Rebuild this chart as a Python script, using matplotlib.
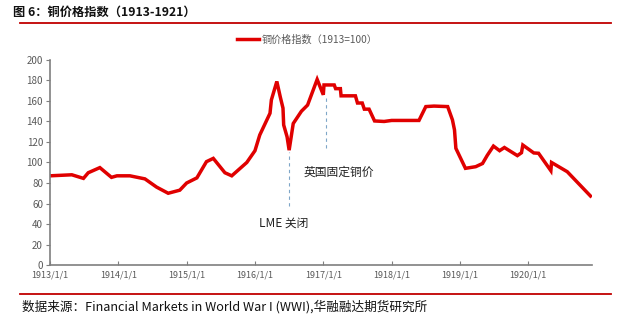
import matplotlib
matplotlib.use("Agg")
import matplotlib.pyplot as plt

plt.rcParams['font.family'] = ['Noto Sans CJK SC', 'DejaVu Sans']

# decimal years and copper price index (1913=100)
years = [1913.0, 1913.32, 1913.49, 1913.56, 1913.73, 1913.9, 1913.98, 1914.17, 1914.39,
         1914.56, 1914.73, 1914.9, 1915.0, 1915.15, 1915.29, 1915.39, 1915.56, 1915.66,
         1915.88, 1916.0, 1916.07, 1916.22, 1916.24, 1916.32, 1916.37, 1916.41, 1916.42,
         1916.47, 1916.5, 1916.56, 1916.68, 1916.77, 1916.91, 1917.0, 1917.01, 1917.16,
         1917.18, 1917.25, 1917.26, 1917.47, 1917.5, 1917.57, 1917.6, 1917.67, 1917.75,
         1917.89, 1918.0, 1918.4, 1918.5, 1918.62, 1918.82, 1918.89, 1918.92, 1918.94,
         1919.08, 1919.23, 1919.33, 1919.4, 1919.49, 1919.58, 1919.65, 1919.84, 1919.9,
         1919.92, 1920.08, 1920.15, 1920.33, 1920.34, 1920.57, 1920.91]
values = [87, 88, 84.5, 90, 95, 85.5, 87, 87, 84,
          76, 70, 73, 80, 85, 100.8, 104, 90, 87,
          100, 111.5, 126.8, 148, 161, 179, 164, 153, 136.6,
          125, 112, 138, 150, 156, 181, 166, 175.6, 175.6,
          172, 172, 165, 165, 158, 158, 152, 152, 140.5,
          140, 141, 141, 154.5, 155, 154.5, 141.5, 131.7, 113.8,
          94.3, 95.9, 99, 107, 116, 111.5, 114.6, 106.7, 109.5,
          117, 109.3, 109, 92, 100, 91, 67.3]

tick_years = [1913, 1914, 1915, 1916, 1917, 1918, 1919, 1920]
tick_labels = ['1913/1/1', '1914/1/1', '1915/1/1', '1916/1/1', '1917/1/1', '1918/1/1', '1919/1/1', '1920/1/1']
y_ticks = [0, 20, 40, 60, 80, 100, 120, 140, 160, 180, 200]

series_label = '铜价格指数（1913=100）'
title = '图 6：铜价格指数（1913-1921）'
source = '数据来源：Financial Markets in World War I (WWI),华融融达期货研究所'

# annotations: (x, y_top, y_bottom, text, text_x, text_y)
ann_lme = (1916.5, 110, 58, 'LME 关闭', 1916.42, 41)
ann_uk = (1917.04, 164, 114, '英国固定铜价', 1917.22, 90)

fig = plt.figure(figsize=(6.2, 3.24), dpi=100)
ax = fig.add_axes([0.0806, 0.182, 0.874, 0.633])

ax.plot(years, values, color='#e00000', lw=2.5, label=series_label, solid_joinstyle='miter')

for (x, y1, y2, txt, tx, ty) in [ann_lme, ann_uk]:
    ax.plot([x, x], [y2, y1], color='#7fa6c8', lw=0.8, ls=(0, (3, 3)))
    ax.text(tx, ty, txt, fontsize=8.5, color='#222222', ha='center', va='center')

ax.set_xlim(1913, 1920.93)
ax.set_ylim(0, 200)
ax.set_xticks(tick_years)
ax.set_xticklabels(tick_labels)
ax.set_yticks(y_ticks)
ax.tick_params(axis='x', direction='in', length=3, labelsize=6.5, colors='#7f7f7f', labelcolor='#595959', pad=4)
ax.tick_params(axis='y', direction='out', length=3, labelsize=7, colors='#7f7f7f', labelcolor='#595959', pad=2)
for s in ['top', 'right']:
    ax.spines[s].set_visible(False)
for s in ['left', 'bottom']:
    ax.spines[s].set_color('#7f7f7f')
    ax.spines[s].set_linewidth(1.2)

leg = ax.legend(loc='center', bbox_to_anchor=(0.475, 1.098), frameon=False, fontsize=7.3,
                handlelength=2.2, handletextpad=0.3)
for t in leg.get_texts():
    t.set_color('#595959')

fig.text(0.021, 0.961, title, fontsize=8.8, fontweight='bold', ha='left', va='center', color='#111111')
fig.add_artist(plt.Line2D([0.032, 0.985], [0.93, 0.93], color='#c00000', lw=1.3, transform=fig.transFigure))
fig.add_artist(plt.Line2D([0.032, 0.985], [0.092, 0.092], color='#c00000', lw=1.3, transform=fig.transFigure))
fig.text(0.035, 0.052, source, fontsize=9.1, ha='left', va='center', color='#111111')

fig.savefig('out.png', dpi=100)
